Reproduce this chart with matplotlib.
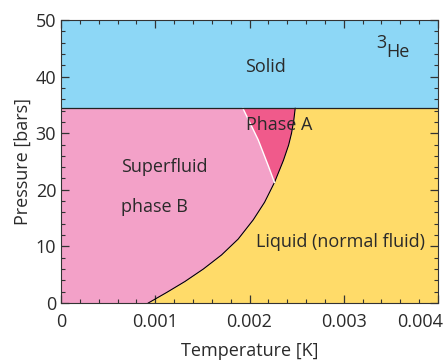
"""Phase diagram of helium-3 at millikelvin temperatures."""
import matplotlib
matplotlib.use("Agg")
import matplotlib.pyplot as plt
from matplotlib.ticker import MultipleLocator
from matplotlib.transforms import ScaledTranslation

BLUE = "#8dd7f6"
PINK = "#f3a1c8"
PHASE_A = "#f05a8b"
YELLOW = "#ffdb69"
FG = "#2a2a2a"

# superfluid transition line Tc(P)
tc_P = [0.0, 1.85, 3.8, 6.0, 8.5, 11.3, 14.7, 17.8, 21.3,
        25.2, 27.9, 30.0, 32.3, 34.4]
tc_T = [0.000926, 0.00112, 0.001315, 0.00151, 0.001704, 0.00188,
        0.00204, 0.00216, 0.002265, 0.00236, 0.002415, 0.002446,
        0.00247, 0.002485]

# A-B boundary (white line), from the PCP up to the melting line
ab_P = [21.3, 24.0, 28.8, 34.4]
ab_T = [0.002265, 0.002205, 0.002093, 0.00193]

P_MELT = 34.4
T_MAX = 0.004
P_MAX = 50

plt.rcParams.update({
    "font.family": ["Open Sans", "DejaVu Sans"],
    "font.size": 13,
    "text.color": FG,
    "axes.edgecolor": "#333333",
    "axes.labelcolor": FG,
    "xtick.color": "#333333",
    "ytick.color": "#333333",
    "xtick.labelcolor": FG,
    "ytick.labelcolor": FG,
    "xtick.direction": "in",
    "ytick.direction": "in",
    "xtick.top": True,
    "ytick.right": True,
})

fig = plt.figure(figsize=(4.46, 3.6), dpi=100)
ax = fig.add_axes([61 / 446, 57 / 360, 377 / 446, 283 / 360])

# regions
ax.fill_between([0, T_MAX], P_MELT, P_MAX, color=BLUE, lw=0)
ax.fill_betweenx(tc_P, 0, tc_T, color=PINK, lw=0)
ax.fill_betweenx(tc_P, tc_T, T_MAX, color=YELLOW, lw=0)

# phase A pocket: A-B line going up, Tc curve coming back down
upper = [(t, p) for t, p in zip(tc_T, tc_P) if p > ab_P[0]][::-1]
a_T = ab_T + [t for t, p in upper]
a_P = ab_P + [p for t, p in upper]
ax.fill(a_T, a_P, color=PHASE_A, lw=0)

# boundaries
ax.plot(tc_T, tc_P, color="black", lw=0.8)
ax.plot(ab_T, ab_P, color="white", lw=1.0)
ax.axhline(P_MELT, color="#222222", lw=0.9)

ax.set_xlim(0, T_MAX)
ax.set_ylim(0, P_MAX)
ax.set_xticks([0, 0.001, 0.002, 0.003, 0.004])
ax.set_xticklabels(["0", "0.001", "0.002", "0.003", "0.004"])
ax.xaxis.set_minor_locator(MultipleLocator(0.0002))
ax.yaxis.set_major_locator(MultipleLocator(10))
ax.yaxis.set_minor_locator(MultipleLocator(2))
ax.tick_params(which="major", length=6, width=0.9)
ax.tick_params(which="minor", length=3, width=0.8)
ax.tick_params(axis="x", pad=7)
last = ax.xaxis.get_majorticklabels()[-1]
last.set_horizontalalignment("right")
last.set_transform(last.get_transform() + ScaledTranslation(5 / 100, 0, fig.dpi_scale_trans))

ax.set_xlabel("Temperature [K]", labelpad=8)
ax.set_ylabel("Pressure [bars]", labelpad=3)

ax.text(0.00217, 40.9, "Solid", ha="center", va="baseline")
ax.text(0.00334, 45.0, "3", ha="left", va="baseline")
ax.text(0.003454, 43.4, "He", ha="left", va="baseline")
ax.text(0.002312, 30.6, "Phase A", ha="center", va="baseline")
ax.text(0.000633, 23.1, "Superfluid", ha="left", va="baseline")
ax.text(0.000633, 16.1, "phase B", ha="left", va="baseline")
ax.text(0.002964, 9.95, "Liquid (normal fluid)", ha="center", va="baseline")

fig.savefig("out.png", dpi=100)
